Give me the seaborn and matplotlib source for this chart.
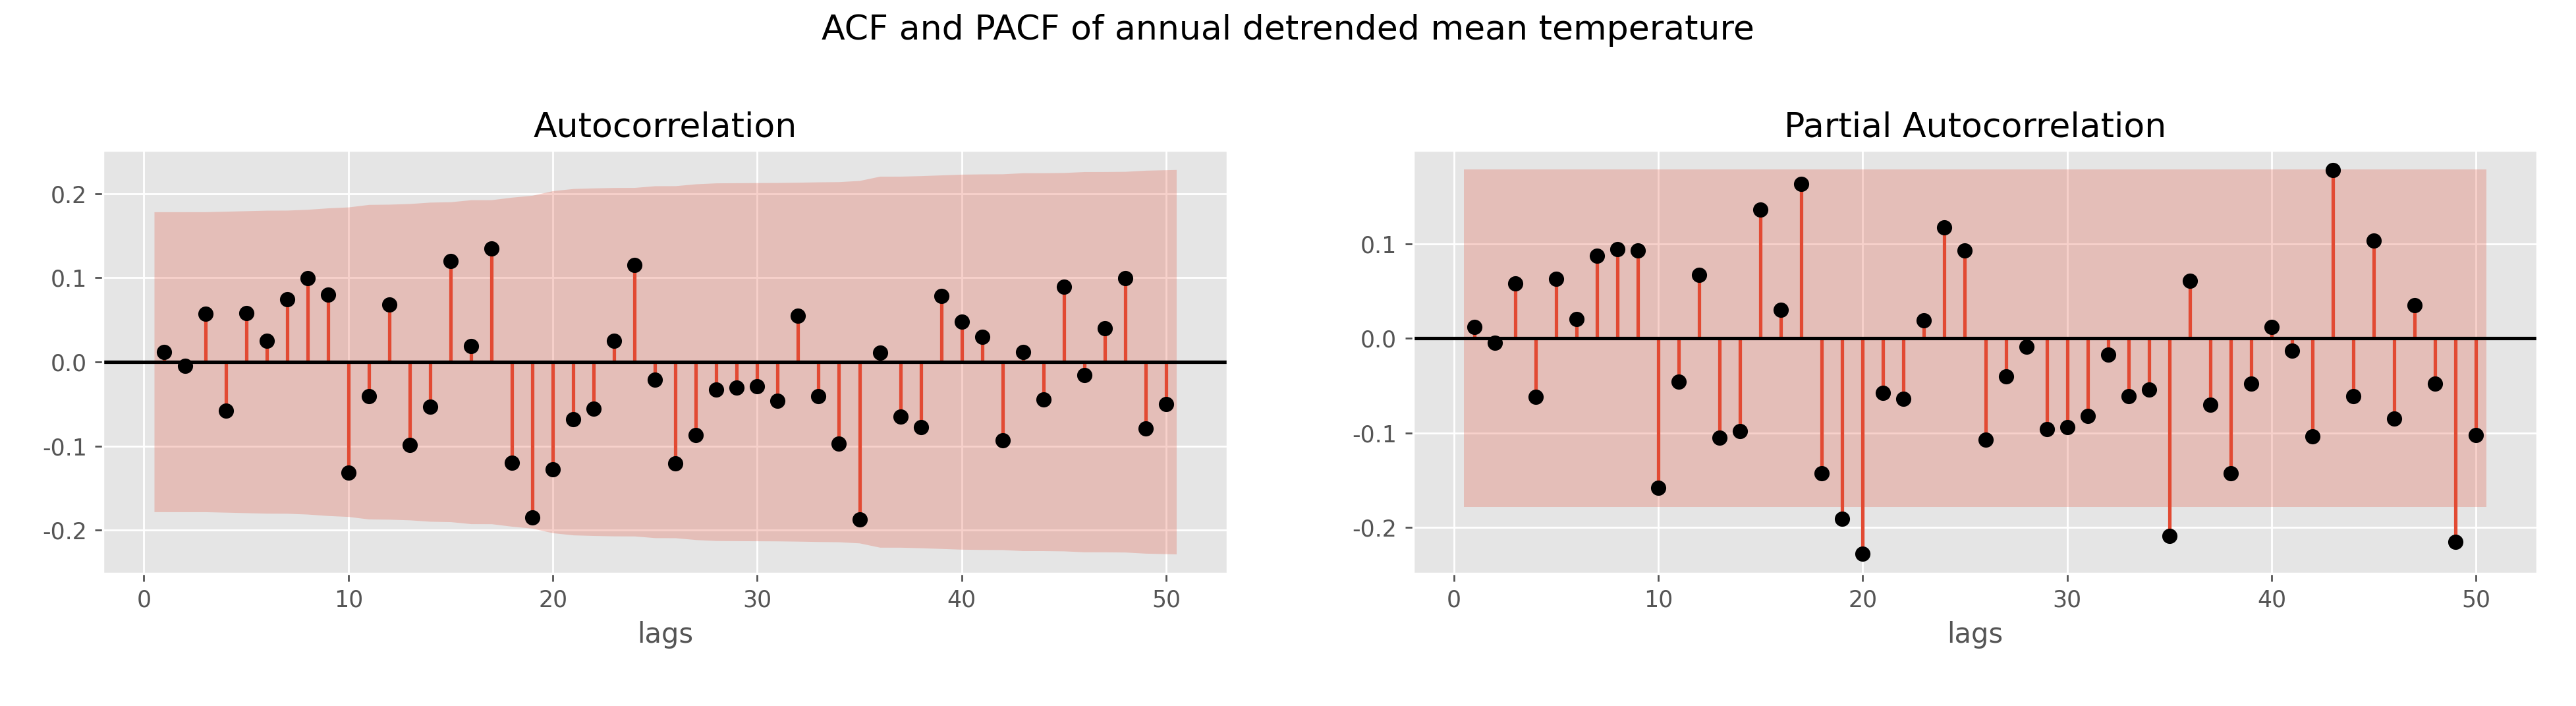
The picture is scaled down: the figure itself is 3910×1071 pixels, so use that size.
import numpy as np
import pandas as pd
import matplotlib
matplotlib.use("Agg")
import matplotlib.pyplot as plt
from matplotlib.ticker import MultipleLocator
import seaborn as sns

lags = list(range(1, 51))
acf_vals = [0.012, -0.005, 0.057, -0.058, 0.058, 0.025, 0.074, 0.099, 0.080, -0.132,
            -0.041, 0.068, -0.099, -0.053, 0.120, 0.019, 0.135, -0.120, -0.185, -0.128,
            -0.068, -0.056, 0.025, 0.115, -0.021, -0.121, -0.087, -0.033, -0.031, -0.029,
            -0.046, 0.055, -0.041, -0.097, -0.187, 0.011, -0.065, -0.078, 0.078, 0.048,
            0.030, -0.093, 0.012, -0.045, 0.089, -0.016, 0.040, 0.099, -0.079, -0.050]
pacf_vals = [0.012, -0.005, 0.058, -0.062, 0.063, 0.020, 0.087, 0.094, 0.093, -0.158,
             -0.046, 0.067, -0.105, -0.098, 0.136, 0.030, 0.163, -0.143, -0.191, -0.228,
             -0.058, -0.064, 0.019, 0.117, 0.093, -0.107, -0.040, -0.009, -0.096, -0.094,
             -0.082, -0.017, -0.061, -0.054, -0.209, 0.061, -0.070, -0.143, -0.048, 0.012,
             -0.013, -0.104, 0.178, -0.061, 0.103, -0.085, 0.035, -0.048, -0.215, -0.102]
n_obs = 121

plt.style.use("ggplot")
fig, axes = plt.subplots(1, 2, figsize=(15.64, 4.284), dpi=250)
fig.subplots_adjust(left=0.04, right=0.985, top=0.787, bottom=0.188, wspace=0.165)

# confidence bands (Bartlett for ACF, constant for PACF)
base = 1.96 / np.sqrt(n_obs)
r2 = np.cumsum([0.0] + [v ** 2 for v in acf_vals[:-1]])
acf_band = base * np.sqrt(1 + 2 * r2)
pacf_band = np.full(len(lags), base)

band_x = np.array(lags, dtype=float)
band_x[0] -= 0.5
band_x[-1] += 0.5

for ax, vals, band, title in [(axes[0], acf_vals, acf_band, "Autocorrelation"),
                              (axes[1], pacf_vals, pacf_band, "Partial Autocorrelation")]:
    df = pd.DataFrame({"lag": lags, "value": vals})
    ax.fill_between(band_x, -band, band, color="C0", alpha=0.25, linewidth=0)
    ax.vlines(df["lag"], 0, df["value"], color="C0", linewidth=1.5)
    ax.axhline(0, color="black", linewidth=1.5)
    sns.scatterplot(data=df, x="lag", y="value", ax=ax, color="black", s=38,
                    edgecolor="black", zorder=3)
    ax.set_title(title, fontsize=15)
    ax.set_xlabel("lags", fontsize=12)
    ax.set_ylabel("")
    ax.margins(x=0.05, y=0.05)
    ax.yaxis.set_major_locator(MultipleLocator(0.1))
    ax.yaxis.set_major_formatter(plt.FormatStrFormatter("%.1f"))

fig.suptitle("ACF and PACF of annual detrended mean temperature", fontsize=15)
fig.savefig("out.png", dpi=250)
